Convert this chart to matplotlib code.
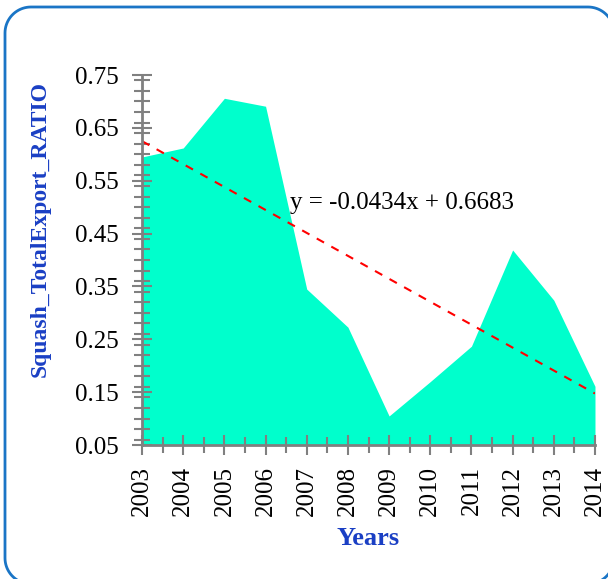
import matplotlib.pyplot as plt
from matplotlib.ticker import MultipleLocator
import numpy as np

years = [2003, 2004, 2005, 2006, 2007, 2008, 2009, 2010, 2011, 2012, 2013, 2014]
ratio = [0.595, 0.612, 0.706, 0.691, 0.345, 0.273, 0.105, 0.170, 0.237, 0.419, 0.324, 0.161]
slope = -0.0434
intercept = 0.6683
eq_label = "y = -0.0434x + 0.6683"

plt.rcParams['font.family'] = ['Liberation Serif', 'DejaVu Serif']

W, H = 608, 579
fig = plt.figure(figsize=(W / 100, H / 100), dpi=100)


def rounded_rect(x0, y0, x1, y1, r, n=20):
    # polyline outline of a rounded rectangle (pixel units, y up)
    pts = []
    corners = [(x1 - r, y1 - r, 0), (x0 + r, y1 - r, 90),
               (x0 + r, y0 + r, 180), (x1 - r, y0 + r, 270)]
    for cx, cy, a0 in corners:
        t = np.radians(np.linspace(a0, a0 + 90, n))
        pts.append(np.column_stack([cx + r * np.cos(t), cy + r * np.sin(t)]))
    pts = np.vstack(pts + [pts[0][:1]])
    return pts[:, 0], pts[:, 1]


# background axes in pixel units for the frame
bg = fig.add_axes([0, 0, 1, 1])
bg.set_xlim(0, W)
bg.set_ylim(0, H)
bg.axis("off")
fx, fy = rounded_rect(5, -5, 614, H - 7, 26)
bg.plot(fx, fy, color="#1a75c6", linewidth=2, clip_on=False)

ax = fig.add_axes([0.2336, 0.2314, 0.745, 0.639])

ax.fill_between(years, 0.05, ratio, color="#00FFCC", linewidth=0)

idx = np.arange(1, len(years) + 1)
trend = slope * idx + intercept
ax.plot(years, trend, color="red", linestyle=(0, (4, 4)), linewidth=1.5)
ax.text(2006.6, 0.507, eq_label, fontsize=18, va="center", ha="left")

ax.set_xlim(2003, 2014)
ax.set_ylim(0.05, 0.75)
ax.set_xticks(years)
ax.set_xticklabels([str(y) for y in years], rotation=90)
ax.xaxis.set_minor_locator(MultipleLocator(0.5))
ax.set_yticks([0.05, 0.15, 0.25, 0.35, 0.45, 0.55, 0.65, 0.75])
ax.set_yticklabels(["0.05", "0.15", "0.25", "0.35", "0.45", "0.55", "0.65", "0.75"])
ax.yaxis.set_minor_locator(MultipleLocator(0.02))

for s in ["top", "right"]:
    ax.spines[s].set_visible(False)
for s in ["left", "bottom"]:
    ax.spines[s].set_color("#808080")
    ax.spines[s].set_linewidth(2)

ax.tick_params(which="both", direction="inout", color="#808080", width=1.5,
               labelsize=18, length=14)
ax.tick_params(which="minor", length=11)
ax.tick_params(axis="y", pad=10)
ax.tick_params(axis="x", pad=8)

ax.set_xlabel("Years", fontsize=19, fontweight="bold", color="#1a3fc4")
ax.set_ylabel("Squash_TotalExport_RATIO", fontsize=17, fontweight="bold",
              color="#1a3fc4")
ax.xaxis.set_label_coords(0.5, -(538 - 445) / 370, transform=ax.transAxes)
ax.yaxis.set_label_coords(-(142 - 40) / 453, (445 - 229) / 370, transform=ax.transAxes)
ax.xaxis.label.set_va("center")
ax.yaxis.label.set_va("center")

fig.savefig("out.png", dpi=100)
